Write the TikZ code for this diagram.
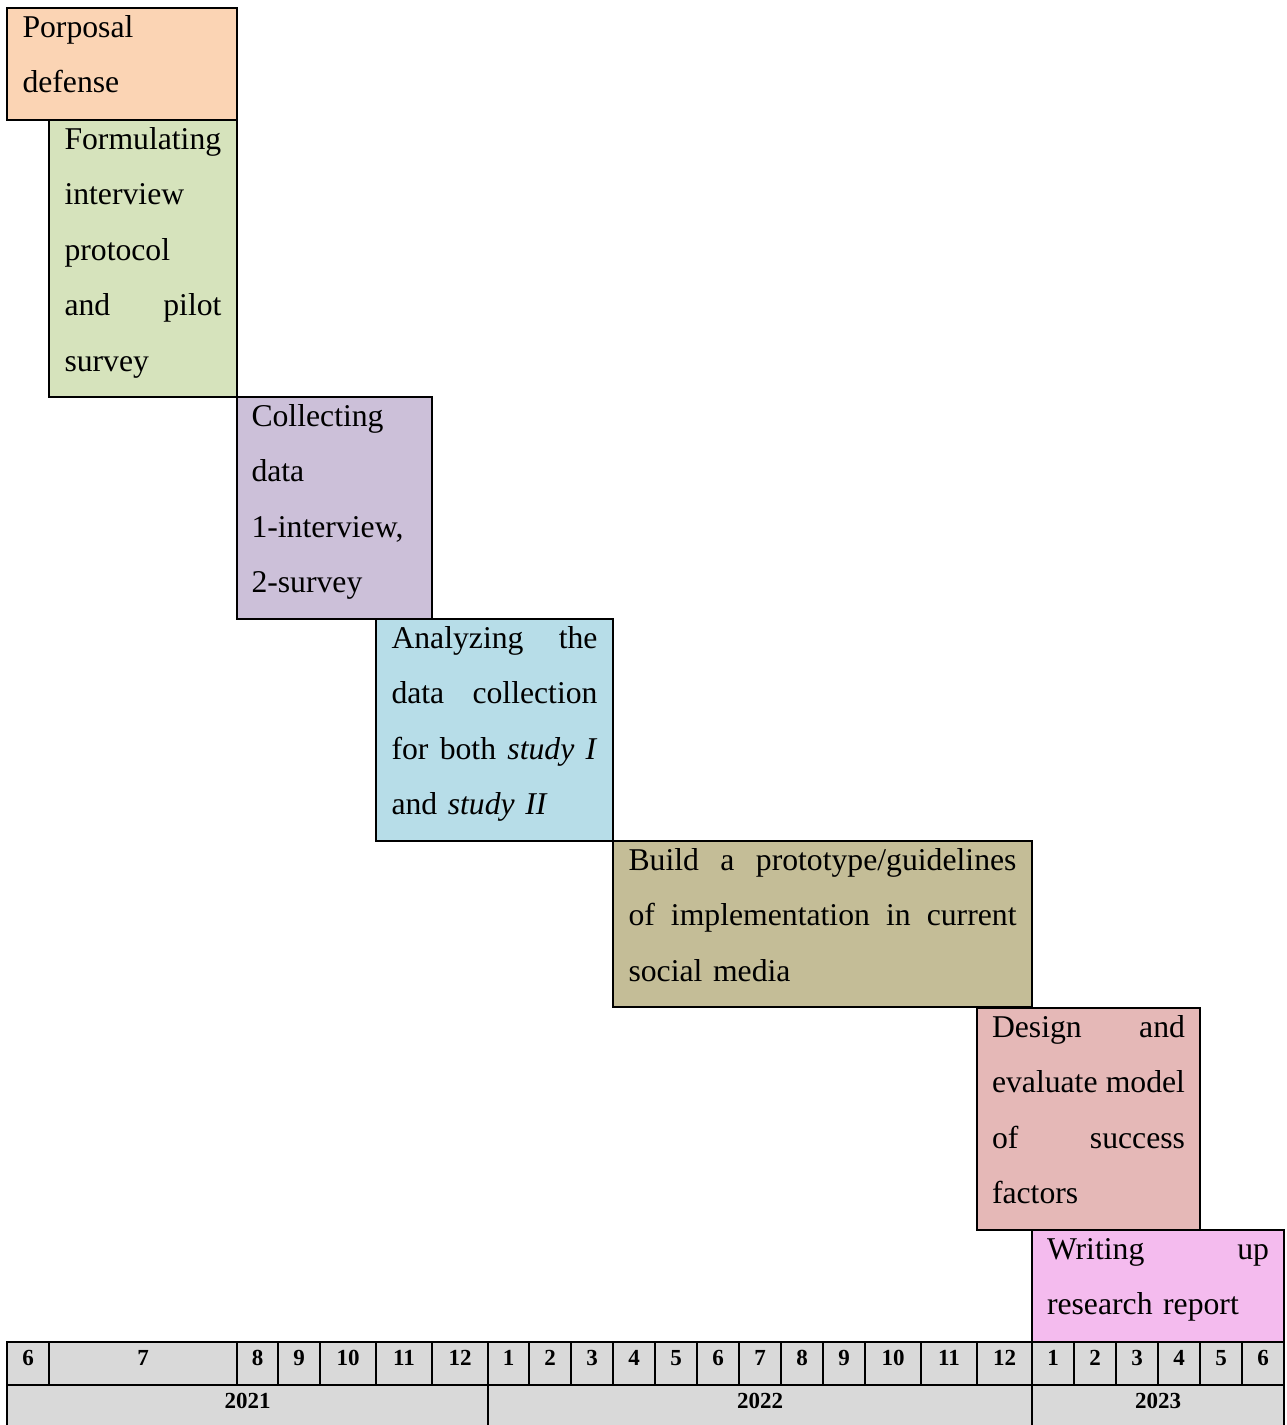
\documentclass[tikz,border=0pt]{standalone}
\usepackage{fontspec}
\setmainfont{Liberation Serif}
\definecolor{cPeach}{HTML}{FBD4B4}
\definecolor{cGreen}{HTML}{D6E3BC}
\definecolor{cPurple}{HTML}{CCC0D9}
\definecolor{cBlue}{HTML}{B7DDE8}
\definecolor{cTan}{HTML}{C4BD97}
\definecolor{cRose}{HTML}{E5B8B7}
\definecolor{cPink}{HTML}{F4BBEE}
\definecolor{axisgray}{HTML}{D9D9D9}
\newcommand\jline[2]{\leavevmode\hbox to #1{#2}}
\newcommand\firstl{\rule{0pt}{28pt}}
\begin{document}
\begin{tikzpicture}[x=1pt,y=-1pt,
  taskbox/.style={draw=black,line width=2.2pt,inner sep=0pt,outer sep=0pt,anchor=north west},
  tasktext/.style={inner sep=0pt,outer sep=0pt,anchor=north west,align=left,
    font=\fontsize{31.7}{55.4}\selectfont},
  cell/.style={draw=black,line width=2.2pt,fill=axisgray,inner sep=0pt,outer sep=0pt,
    anchor=north west,font=\bfseries\fontsize{23}{23}\selectfont}]
\useasboundingbox (0,0) rectangle (1286,1425);

% task boxes
\node[taskbox,fill=cPeach,minimum width=230pt,minimum height=112pt] (b1) at (7,8) {};
\node[taskbox,fill=cGreen,minimum width=188pt,minimum height=277pt] (b2) at (49,120) {};
\node[taskbox,fill=cPurple,minimum width=195pt,minimum height=222pt] (b3) at (237,397) {};
\node[taskbox,fill=cBlue,minimum width=237pt,minimum height=222pt] (b4) at (376,619) {};
\node[taskbox,fill=cTan,minimum width=419pt,minimum height=166pt] (b5) at (613,841) {};
\node[taskbox,fill=cRose,minimum width=223pt,minimum height=222pt] (b6) at (977,1008) {};
\node[taskbox,fill=cPink,minimum width=252pt,minimum height=112pt] (b7) at (1032,1230) {};

% task texts
\node[tasktext,text width=199pt] (t1) at ([xshift=15.5pt,yshift=-1.5pt]b1.north west)
  {\firstl Porposal\\defense};
\node[tasktext,text width=157pt] (t2) at ([xshift=15.5pt,yshift=-1.5pt]b2.north west)
  {\firstl Formulating\\interview\\protocol\\\jline{157pt}{and\hfill pilot}\\survey};
\node[tasktext,text width=164pt] (t3) at ([xshift=14.5pt,yshift=-1.5pt]b3.north west)
  {\firstl Collecting\\data\\1-interview,\\2-survey};
\node[tasktext,text width=206pt] (t4) at ([xshift=15.5pt,yshift=-1.5pt]b4.north west)
  {\firstl\jline{206pt}{Analyzing\hfill the}\\\jline{206pt}{data\hfill collection}\\\jline{206pt}{for\hfill both\hfill \textit{study}\hfill\textit{I}}\\and \textit{study II}};
\node[tasktext,text width=388pt] (t5) at ([xshift=15.5pt,yshift=-1.5pt]b5.north west)
  {\firstl\jline{388pt}{Build\hfill a\hfill prototype/guidelines}\\\jline{388pt}{of\hfill implementation\hfill in\hfill current}\\social media};
\node[tasktext,text width=193pt] (t6) at ([xshift=15pt,yshift=-1.5pt]b6.north west)
  {\firstl\jline{193pt}{Design\hfill and}\\\jline{193pt}{evaluate\hfill model}\\\jline{193pt}{of\hfill success}\\factors};
\node[tasktext,text width=222pt] (t7) at ([xshift=15pt,yshift=-1.5pt]b7.north west)
  {\firstl\jline{222pt}{Writing\hfill up}\\research report};

% month row
\foreach \a/\b/\l [count=\i] in {7/49/6,49/237/7,237/278/8,278/320/9,320/376/10,376/432/11,432/488/12,
  488/529/1,529/571/2,571/613/3,613/655/4,655/697/5,697/739/6,739/781/7,781/823/8,823/865/9,
  865/921/10,921/977/11,977/1032/12,
  1032/1074/1,1074/1116/2,1116/1158/3,1158/1200/4,1200/1242/5,1242/1284/6}
  \node[cell,minimum width={(\b-\a)*1pt},text height=23pt,text depth=20pt] (m\i) at (\a,1342) {\l};

% year row
\node[cell,minimum width=481pt,text height=23pt,text depth=19pt] (y1) at (7,1385) {2021};
\node[cell,minimum width=544pt,text height=23pt,text depth=19pt] (y2) at (488,1385) {2022};
\node[cell,minimum width=252pt,text height=23pt,text depth=19pt] (y3) at (1032,1385) {2023};
\end{tikzpicture}
\end{document}
